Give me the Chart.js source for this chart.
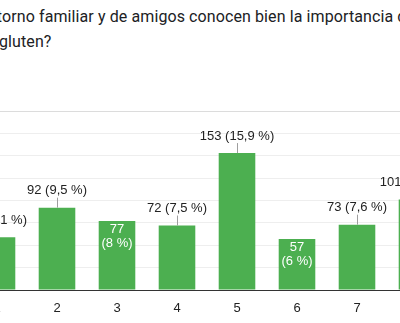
<!DOCTYPE html>
<html lang="es">
  <head>
    <meta charset="UTF-8" />
    <title>Entorno familiar y gluten</title>
    <style>
      body {
        margin: 0;
        width: 400px;
        height: 323px;
        overflow: hidden;
        position: relative;
        background: #fff;
        font-family: Roboto, Arial, sans-serif;
      }
      .q {
        position: absolute;
        left: 2px;
        font-size: 16px;
        letter-spacing: 0.1px;
        color: #202124;
        white-space: nowrap;
      }
      .q .pre {
        position: absolute;
        right: 100%;
      }
      #wrap {
        position: absolute;
        left: -33px;
        top: 105px;
        width: 480px;
        height: 218px;
      }
    </style>
    <script src="https://cdn.jsdelivr.net/npm/chart.js"></script>
  </head>
  <body>
    <div class="q" style="top: 7px"><span class="pre">¿Crees que tu ent</span>orno familiar y de amigos conocen bien la importancia de la</div>
    <div class="q" style="top: 32px; left: -1px"><span class="pre">dieta sin </span>gluten?</div>
    <div id="wrap"><canvas id="chart" width="480" height="218"></canvas></div>
    <script>
      // respuestas por valor de la escala
      const categories = ["1", "2", "3", "4", "5", "6", "7", "8"];
      const counts = [59, 92, 77, 72, 153, 57, 73, 101];
      const percents = ["6,1", "9,5", "8", "7,5", "15,9", "6", "7,6", "10,5"];
      // google pone algunas etiquetas dentro de la barra
      const labelInside = [false, false, true, false, false, true, false, false];
      const yTicks = [0, 25, 50, 75, 100, 125, 150, 175, 200];

      const chartFont = "Arial, 'Liberation Sans', sans-serif";

      const barLabels = {
        id: "barLabels",
        afterDatasetsDraw(chart) {
          const c = chart.ctx;
          const meta = chart.getDatasetMeta(0);
          c.save();
          c.font = "13px " + chartFont;
          c.textAlign = "center";
          c.textBaseline = "middle";
          meta.data.forEach((bar, i) => {
            const x = bar.x;
            const top = bar.y;
            if (labelInside[i]) {
              c.fillStyle = "#ffffff";
              c.fillText(String(counts[i]), x, top + 8.5);
              c.fillText("(" + percents[i] + " %)", x, top + 22.5);
            } else {
              c.strokeStyle = "#9e9e9e";
              c.lineWidth = 1;
              c.beginPath();
              c.moveTo(Math.round(x) + 0.5, top - 10);
              c.lineTo(Math.round(x) + 0.5, top);
              c.stroke();
              c.fillStyle = "#222222";
              c.fillText(counts[i] + " (" + percents[i] + " %)", x, top - 17);
            }
          });
          c.restore();
        },
      };

      new Chart(document.getElementById("chart").getContext("2d"), {
        type: "bar",
        data: {
          labels: categories,
          datasets: [
            {
              data: counts,
              backgroundColor: "#4caf50",
              borderWidth: 0,
              categoryPercentage: 1,
              barPercentage: 0.61,
            },
          ],
        },
        options: {
          responsive: false,
          animation: false,
          layout: { padding: { top: 6, left: 0, right: 0, bottom: 0 } },
          plugins: {
            legend: { display: false },
            tooltip: { enabled: false },
          },
          scales: {
            x: {
              grid: { display: false },
              border: { color: "#333333", width: 1 },
              ticks: {
                color: "#222222",
                font: { family: chartFont, size: 13 },
                padding: 3,
              },
              afterFit(s) {
                s.height = 33;
              },
            },
            y: {
              min: 0,
              max: 200,
              afterBuildTicks(s) {
                s.ticks = yTicks.map((v) => ({ value: v }));
              },
              ticks: { display: false },
              border: { display: false },
              grid: {
                drawTicks: false,
                color: (ctx) =>
                  ctx.tick.value === 0
                    ? "#333333"
                    : ctx.tick.value === 200
                    ? "#dcdcdc"
                    : "#eeeeee",
              },
              afterFit(s) {
                s.width = 0;
              },
            },
          },
        },
        plugins: [barLabels],
      });
    </script>
  </body>
</html>
